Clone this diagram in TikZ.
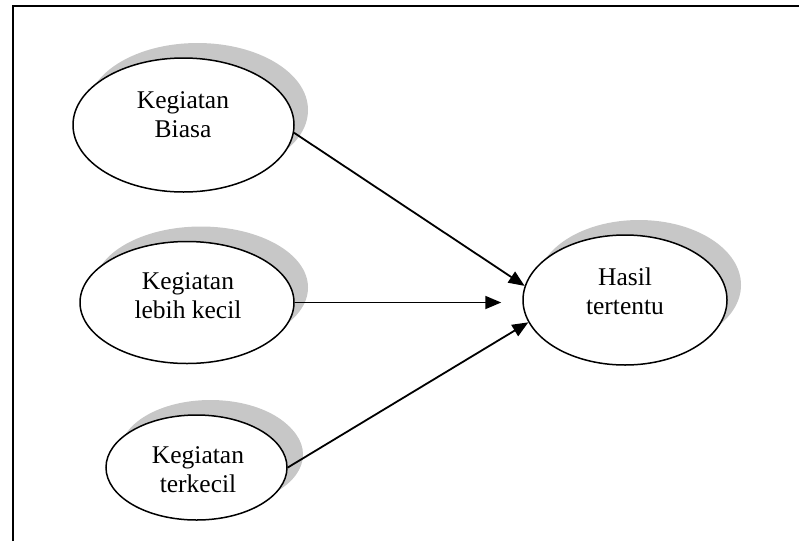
\documentclass[tikz,border=0pt]{standalone}
\usepackage{fontspec}
\setmainfont{Liberation Serif}
\usetikzlibrary{shapes.geometric,arrows.meta,shadows}
\begin{document}
\begin{tikzpicture}[x=1pt,y=-1pt,
  oval/.style={ellipse, draw=black, line width=1.5pt, fill=white, inner sep=0pt,
    general shadow={shadow xshift=14pt, shadow yshift=15pt, fill=black!22, draw=none}},
  txt/.style={align=center, font=\fontsize{25.5}{29}\selectfont, inner sep=0pt},
  conn/.style={line width=1.8pt, -{Triangle[length=16pt,width=13pt]}}]
\useasboundingbox (0,0) rectangle (799,541);
\draw[line width=2.2pt] (13,541) -- (13,6) -- (799,6);
\node[oval, minimum width=221pt, minimum height=134pt] (b1) at (183.5,125) {};
\node[oval, minimum width=214pt, minimum height=122pt] (l) at (187,302.5) {};
\node[oval, minimum width=181pt, minimum height=105pt, general shadow={shadow xshift=16pt, shadow yshift=13pt, fill=black!22, draw=none}] (t) at (196.5,467.5) {};
\node[oval, minimum width=204pt, minimum height=130pt] (h) at (625,300) {};
\node[txt] (b1t) at (183,115) {Kegiatan\\Biasa};
\node[txt] (lt) at (188,296) {Kegiatan\\lebih kecil};
\node[txt] (tt) at (198,470) {Kegiatan\\terkecil};
\node[txt] (ht) at (625,291) {Hasil\\tertentu};
\draw[conn] (b1.-4) -- (h.172);
\draw[conn, shorten >=21pt] (l.east) -- (l.east -| h.west);
\draw[conn] (t.east) -- (h.193);
\end{tikzpicture}
\end{document}
